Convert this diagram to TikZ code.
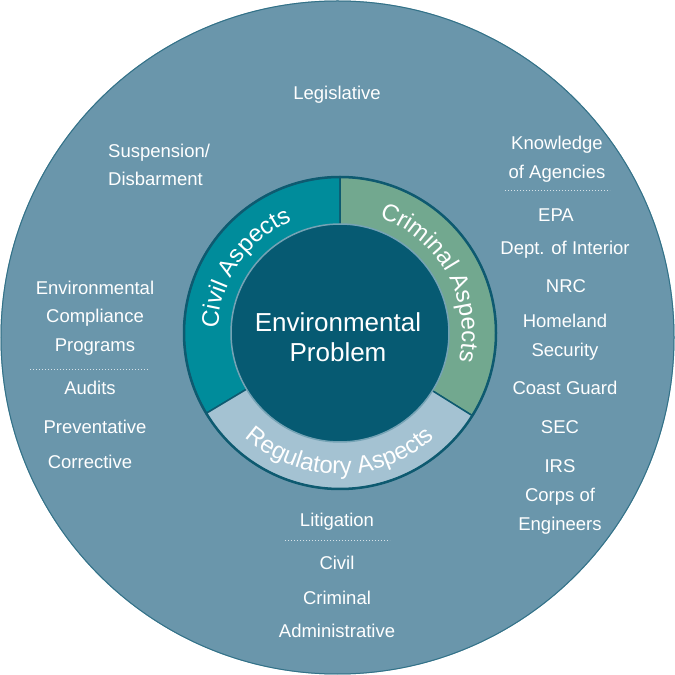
\documentclass[tikz,border=0pt]{standalone}
\usepackage{fontspec}
\setmainfont{Liberation Sans}
\usetikzlibrary{decorations.text}
\definecolor{outerc}{HTML}{6A96AB}
\definecolor{civilc}{HTML}{008C9B}
\definecolor{crimc}{HTML}{72A88F}
\definecolor{regc}{HTML}{A4C2D2}
\definecolor{corec}{HTML}{065A72}
\definecolor{edgec}{HTML}{0E5A70}
\definecolor{sepc}{HTML}{D8E4EA}
\tikzset{
  lbl/.style={text=white,font=\fontsize{18.5}{28.5}\selectfont,align=center,inner sep=0pt},
  lbll/.style={lbl,align=left},
  sep/.style={sepc,line width=1pt,dotted},
  seg/.style={draw=edgec,line width=1.5pt},
}
\begin{document}
\begin{tikzpicture}[x=1pt,y=1pt]
\useasboundingbox (0,0) rectangle (675,675);
\fill[outerc] (337.5,337.5) circle[radius=337pt];
\draw[edgec!60!outerc,line width=1pt] (337.5,337.5) circle[radius=336.5pt];
\coordinate (c) at (340,342);
\begin{scope}[shift={(340,342)}]
\filldraw[fill=civilc,seg] (0,0) -- (90:156pt) arc[start angle=90,end angle=211,radius=156pt] -- cycle;
\filldraw[fill=crimc,seg] (0,0) -- (-32:156pt) arc[start angle=-32,end angle=90,radius=156pt] -- cycle;
\filldraw[fill=regc,seg] (0,0) -- (211:156pt) arc[start angle=211,end angle=328,radius=156pt] -- cycle;
\draw[edgec,line width=2.5pt] (0,0) circle[radius=156pt];
\filldraw[fill=corec,draw=regc!70!corec,line width=1.5pt] (0,0) circle[radius=109pt];
\path[decorate,decoration={text along path,text align=center,
  text={|\color{white}\fontsize{24}{26}\selectfont|Civil Aspects}}]
  (200:122pt) arc[start angle=200,end angle=91,radius=122pt];
\path[decorate,decoration={text along path,text align=center,
  text={|\color{white}\fontsize{24}{26}\selectfont|Criminal Aspects}}]
  (89:122pt) arc[start angle=89,end angle=-31,radius=122pt];
\path[decorate,decoration={text along path,text align=center,
  text={|\color{white}\fontsize{24}{26}\selectfont|Regulatory Aspects}}]
  (211:141pt) arc[start angle=211,end angle=329,radius=141pt];
\end{scope}
\node[lbl,font=\fontsize{26}{30}\selectfont] (core) at (338,338) {Environmental\\Problem};
\node[lbl] (leg) at (337,580) {Legislative};
\node[lbll,anchor=west] (susp) at (108,510) {Suspension/\\Disbarment};
\node[lbl] (know) at (557,516) {Knowledge\\of Agencies};
\coordinate (k1) at (505,484); \coordinate (k2) at (610,484);
\draw[sep] (k1) -- (k2);
\node[lbl] (epa) at (556,460) {EPA};
\node[lbl] (doi) at (565,425) {Dept. of Interior};
\node[lbl] (nrc) at (566,389) {NRC};
\node[lbl] (hs) at (565,338) {Homeland\\Security};
\node[lbl] (cg) at (565,287) {Coast Guard};
\node[lbl] (sec) at (560,248) {SEC};
\node[lbl] (irs) at (560,209) {IRS};
\node[lbl] (coe) at (560,164) {Corps of\\Engineers};
\node[lbl] (ecp) at (95,357) {Environmental\\Compliance\\Programs};
\coordinate (p1) at (30,305); \coordinate (p2) at (148,305);
\draw[sep] (p1) -- (p2);
\node[lbl] (aud) at (90,287) {Audits};
\node[lbl] (prev) at (95,248) {Preventative};
\node[lbl] (corr) at (90,213) {Corrective};
\node[lbl] (lit) at (337,153) {Litigation};
\coordinate (l1) at (285,134); \coordinate (l2) at (390,134);
\draw[sep] (l1) -- (l2);
\node[lbl] (civ) at (337,112) {Civil};
\node[lbl] (crim) at (337,77) {Criminal};
\node[lbl] (adm) at (337,44) {Administrative};
\end{tikzpicture}
\end{document}
